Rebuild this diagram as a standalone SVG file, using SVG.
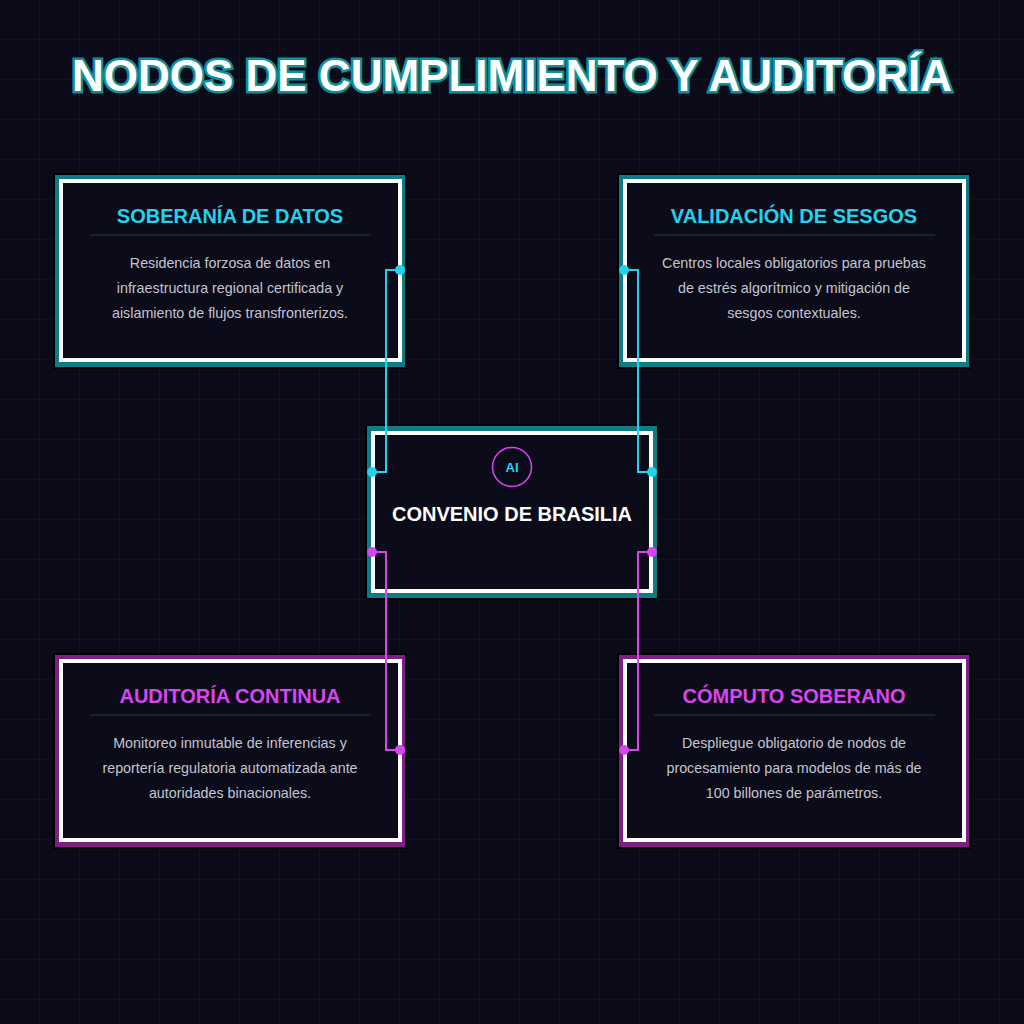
<svg xmlns="http://www.w3.org/2000/svg" width="1024" height="1024" viewBox="0 0 1024 1024">
<defs>
<pattern id="grid" width="40" height="40" patternUnits="userSpaceOnUse"><path d="M40 0V40H0" fill="none" stroke="#191929" stroke-width="1"/></pattern>
<style>
.t{font-family:"Liberation Sans",Arial,sans-serif;font-weight:bold;text-anchor:middle}
.b{font-family:"Liberation Sans",Arial,sans-serif;font-size:14.3px;fill:#c4c4d0;text-anchor:middle}
.in{fill:#0b0b1a;stroke:#fff;stroke-width:4}
.sep{stroke:#33334a;stroke-width:1}
.c{fill:none;stroke:#22d3ee;stroke-width:2}
.m{fill:none;stroke:#d946ef;stroke-width:2}
</style>
</defs>
<rect width="1024" height="1024" fill="#0a0a18"/>
<rect width="1024" height="1024" fill="url(#grid)"/>
<text x="512" y="91" class="t" font-size="44" fill="#fff" stroke="#0e8f99" stroke-width="5" paint-order="stroke">NODOS DE CUMPLIMIENTO Y AUDITORÍA</text>

<g id="n1">
<rect x="53" y="173" width="354" height="196" fill="#000"/>
<rect x="55" y="175" width="350" height="192" fill="#0e7c86"/>
<rect x="61" y="181" width="339" height="179" class="in"/>
<text x="230" y="223" class="t" font-size="20" fill="#22d3ee">SOBERANÍA DE DATOS</text>
<line x1="90" y1="235" x2="371" y2="235" class="sep"/>
<text class="b"><tspan x="230" y="268">Residencia forzosa de datos en</tspan><tspan x="230" y="293">infraestructura regional certificada y</tspan><tspan x="230" y="318">aislamiento de flujos transfronterizos.</tspan></text>
</g>
<g id="n2">
<rect x="617" y="173" width="354" height="196" fill="#000"/>
<rect x="619" y="175" width="350" height="192" fill="#0e7c86"/>
<rect x="625" y="181" width="339" height="179" class="in"/>
<text x="794" y="223" class="t" font-size="20" fill="#22d3ee">VALIDACIÓN DE SESGOS</text>
<line x1="654" y1="235" x2="935" y2="235" class="sep"/>
<text class="b"><tspan x="794" y="268">Centros locales obligatorios para pruebas</tspan><tspan x="794" y="293">de estrés algorítmico y mitigación de</tspan><tspan x="794" y="318">sesgos contextuales.</tspan></text>
</g>
<g id="n3">
<rect x="53" y="653" width="354" height="196" fill="#000"/>
<rect x="55" y="655" width="350" height="192" fill="#7e1f86"/>
<rect x="61" y="661" width="339" height="179" class="in"/>
<text x="230" y="703" class="t" font-size="20" fill="#d946ef">AUDITORÍA CONTINUA</text>
<line x1="90" y1="715" x2="371" y2="715" class="sep"/>
<text class="b"><tspan x="230" y="748">Monitoreo inmutable de inferencias y</tspan><tspan x="230" y="773">reportería regulatoria automatizada ante</tspan><tspan x="230" y="798">autoridades binacionales.</tspan></text>
</g>
<g id="n4">
<rect x="617" y="653" width="354" height="196" fill="#000"/>
<rect x="619" y="655" width="350" height="192" fill="#7e1f86"/>
<rect x="625" y="661" width="339" height="179" class="in"/>
<text x="794" y="703" class="t" font-size="20" fill="#d946ef">CÓMPUTO SOBERANO</text>
<line x1="654" y1="715" x2="935" y2="715" class="sep"/>
<text class="b"><tspan x="794" y="748">Despliegue obligatorio de nodos de</tspan><tspan x="794" y="773">procesamiento para modelos de más de</tspan><tspan x="794" y="798">100 billones de parámetros.</tspan></text>
</g>
<g id="center">
<rect x="365" y="424" width="294" height="176" fill="#000"/>
<rect x="367" y="426" width="290" height="172" fill="#0e7c86"/>
<rect x="373" y="433" width="278" height="158" class="in"/>
<circle cx="512" cy="467" r="19.5" fill="none" stroke="#d946ef" stroke-width="1.5"/>
<text x="512" y="472" class="t" font-size="13" fill="#22d3ee">AI</text>
<text x="512" y="521" class="t" font-size="20" fill="#fff">CONVENIO DE BRASILIA</text>
</g>
<g id="connectors">
<path class="c" d="M400 270H386V472H372"/>
<path class="c" d="M624 270H638V472H652"/>
<path class="m" d="M372 552H386V750H400"/>
<path class="m" d="M652 552H638V750H624"/>
<g fill="#22d3ee"><circle cx="400" cy="270" r="5"/><circle cx="372" cy="472" r="5"/><circle cx="624" cy="270" r="5"/><circle cx="652" cy="472" r="5"/></g>
<g fill="#d946ef"><circle cx="372" cy="552" r="5"/><circle cx="400" cy="750" r="5"/><circle cx="652" cy="552" r="5"/><circle cx="624" cy="750" r="5"/></g>
</g>
</svg>
